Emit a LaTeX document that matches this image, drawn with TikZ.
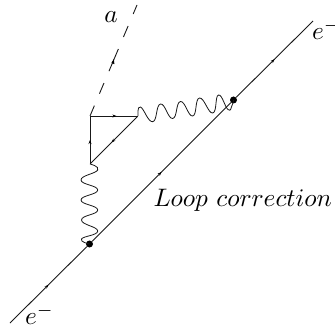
\documentclass[tikz,border=0pt]{standalone}
\usetikzlibrary{decorations.markings,arrows.meta}
\tikzset{
  fermion/.style={draw=black!90,line width=0.9pt},
  midarrow/.style={postaction={decorate},decoration={markings,mark=at position #1 with {\arrow[black]{Stealth[length=4pt,width=3pt]}}}},
  dashline/.style={draw=black!90,line width=0.9pt,dash pattern=on 11pt off 13pt on 11.5pt off 13pt on 24pt off 13pt on 12pt off 13pt on 11pt off 13pt},
  boson/.style={draw=black!90,line width=0.8pt},
  vertexdot/.style={circle,fill=black,inner sep=0pt,minimum size=7pt},
  corner/.style={inner sep=0pt,minimum size=0pt},
  lab/.style={inner sep=0pt,scale=2.53}
}
\begin{document}
\begin{tikzpicture}[x=1pt,y=-1pt]
\useasboundingbox (0,0) rectangle (335,326);
\coordinate (start) at (10,323);
\coordinate (end) at (313,21);
\node[vertexdot] (v1) at (89.5,244) {};
\node[vertexdot] (v2) at (233.5,100) {};
\node[corner] (t1) at (90,116) {};
\node[corner] (t2) at (138,116) {};
\node[corner] (t3) at (90,164) {};
\coordinate (axionend) at (137,5);
\path[fermion,midarrow=0.5] (start) -- (v1);
\path[fermion,midarrow=0.5] (v1) -- (v2);
\path[fermion,midarrow=0.5] (v2) -- (end);
\path[fermion,midarrow=0.55] (t1) -- (t2);
\path[fermion,midarrow=0.55] (t2) -- (t3);
\path[fermion,midarrow=0.5] (t3) -- (t1);
\path[dashline] (t1) -- (axionend);
\fill[black] (113.8,59) -- ++(-2.4,4) -- ++(3,1.2) -- cycle;
\draw[boson] plot[smooth,tension=0.85] coordinates {(t2) (140.5,107) (152.7,121.7) (160.5,104) (172.7,118.5) (180.5,101.5) (192.7,116) (199.5,98) (212.7,113) (218.5,95) (228,109.5) (232,105.5) (v2)};
\draw[boson] plot[smooth,tension=0.85] coordinates {(t3) (97.7,170) (81,180) (97.7,190) (81,200) (97.7,210) (81.5,220) (97.7,231) (81.5,239) (v1)};
\node[lab,anchor=base] (la) at (111,22.5) {$a$};
\node[lab,anchor=base west] (le1) at (311.5,40) {$e^-$};
\node[lab,anchor=base west] (le2) at (24.5,324.5) {$e^-$};
\node[lab,anchor=base west] (ll) at (153,207) {$Loop\ correction$};
\end{tikzpicture}
\end{document}
